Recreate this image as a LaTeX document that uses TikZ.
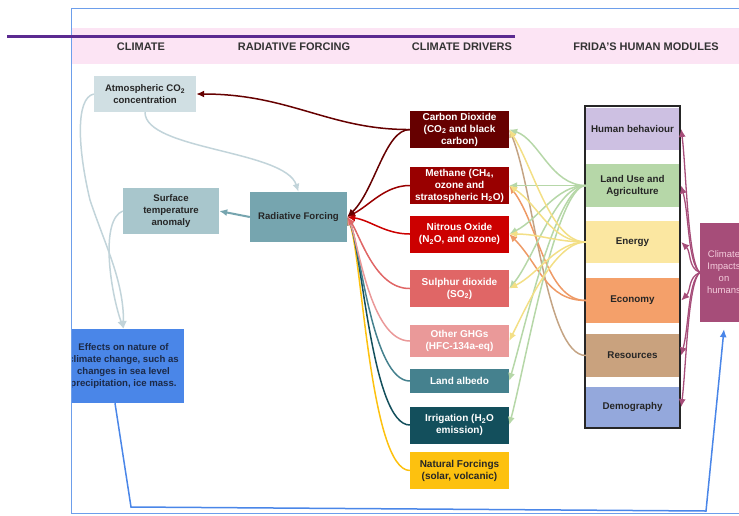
\documentclass[tikz,border=0pt]{standalone}
\usepackage{fontspec}
\setmainfont{Liberation Sans}
\usetikzlibrary{arrows.meta}

% palette
\definecolor{framecol}{HTML}{6D9EEB}
\definecolor{bandpink}{HTML}{FCE4F4}
\definecolor{rulepurple}{HTML}{5B2A90}
\definecolor{atmcol}{HTML}{D0DFE3}
\definecolor{stcol}{HTML}{A8C6CC}
\definecolor{rfcol}{HTML}{76A5AF}
\definecolor{effcol}{HTML}{4A86E8}
\definecolor{efftext}{HTML}{1C2A48}
\definecolor{co2col}{HTML}{660000}
\definecolor{methcol}{HTML}{990000}
\definecolor{nitcol}{HTML}{CC0000}
\definecolor{sulcol}{HTML}{E06666}
\definecolor{othcol}{HTML}{EA9999}
\definecolor{albcol}{HTML}{45818E}
\definecolor{irrcol}{HTML}{134F5C}
\definecolor{natcol}{HTML}{FDC10F}
\definecolor{hbcol}{HTML}{CDC0E2}
\definecolor{lucol}{HTML}{B6D7A8}
\definecolor{encol}{HTML}{FBE7A1}
\definecolor{eccol}{HTML}{F4A06A}
\definecolor{rescol}{HTML}{C9A27E}
\definecolor{demcol}{HTML}{94A8DC}
\definecolor{cicol}{HTML}{A64D79}
\definecolor{citext}{HTML}{F4CCDC}
\definecolor{grayline}{HTML}{C2D4DA}
\definecolor{yline}{HTML}{F3DF86}
\definecolor{oline}{HTML}{EE9A66}
\definecolor{tline}{HTML}{C4A484}

\tikzset{
  hdr/.style={font=\bfseries\fontsize{11}{13}\selectfont, text=black!80},
  clim/.style={inner sep=0pt, align=center, text=black!85,
    font=\bfseries\fontsize{9.6}{11.8}\selectfont},
  drv/.style={inner sep=0pt, minimum width=99pt, minimum height=37pt,
    align=center, text=white, font=\bfseries\fontsize{10}{12}\selectfont},
  mod/.style={inner sep=0pt, minimum width=93pt, align=center,
    text=black!85, font=\bfseries\fontsize{9.8}{12}\selectfont},
  tip/.style={-{Latex[length=8pt,width=7pt]}},
  feed/.style={tip, line width=1.5pt},
  human/.style={tip, line width=1.3pt},
}

\begin{document}
\begin{tikzpicture}[x=1pt,y=-1pt]
\useasboundingbox (0,0) rectangle (739,515);

\begin{scope}
\clip (71,0) rectangle (739,515);

% header band
\fill[bandpink] (71,28) rectangle (739,64);
\node[hdr] (hclim) at (141,47) {CLIMATE};
\node[hdr] (hrf) at (294,47) {RADIATIVE FORCING};
\node[hdr] (hdrv) at (462,47) {CLIMATE DRIVERS};
\node[hdr] (hhum) at (646,47) {FRIDA'S HUMAN MODULES};

% climate and radiative forcing
\node[clim, fill=atmcol, minimum width=102pt, minimum height=36pt]
  (atm) at (145,94) {Atmospheric CO\textsubscript{2}\\concentration};
\node[clim, fill=stcol, minimum width=96pt, minimum height=46pt]
  (st) at (171,211) {Surface\\temperature\\anomaly};
\node[clim, fill=rfcol, minimum width=97pt, minimum height=50pt]
  (rf) at (298.5,217) {Radiative Forcing};
\node[clim, fill=effcol, text=efftext, minimum width=121pt, minimum height=74pt]
  (eff) at (123.5,366) {Effects on nature of\\climate change, such as\\changes in sea level\\precipitation, ice mass.};

% climate drivers
\node[drv, fill=co2col]  (co2d) at (459.5,129.5) {Carbon Dioxide\\(CO\textsubscript{2} and black\\carbon)};
\node[drv, fill=methcol] (meth) at (459.5,185.5) {Methane (CH\textsubscript{4},\\ozone and\\stratospheric H\textsubscript{2}O)};
\node[drv, fill=nitcol]  (nit)  at (459.5,234) {Nitrous Oxide\\(N\textsubscript{2}O, and ozone)};
\node[drv, fill=sulcol]  (sul)  at (459.5,288.5) {Sulphur dioxide\\(SO\textsubscript{2})};
\node[drv, fill=othcol, minimum height=32pt] (oth) at (459.5,341) {Other GHGs\\(HFC-134a-eq)};
\node[drv, fill=albcol, minimum height=24pt] (alb) at (459.5,381) {Land albedo};
\node[drv, fill=irrcol]  (irr)  at (459.5,425) {Irrigation (H\textsubscript{2}O\\emission)};
\node[drv, fill=natcol, text=black!85] (nat) at (459.5,470.5) {Natural Forcings\\(solar, volcanic)};

% human modules
\node[mod, fill=hbcol,  minimum height=42pt] (hb)  at (632.5,129)   {Human behaviour};
\node[mod, fill=lucol,  minimum height=43pt] (lu)  at (632.5,185.5) {Land Use and\\Agriculture};
\node[mod, fill=encol,  minimum height=42pt] (en)  at (632.5,242)   {Energy};
\node[mod, fill=eccol,  minimum height=45pt] (ec)  at (632.5,300.5) {Economy};
\node[mod, fill=rescol, minimum height=43pt] (res) at (632.5,355.5) {Resources};
\node[mod, fill=demcol, minimum height=40pt] (dem) at (632.5,407)   {Demography};
\node[draw=black!85, line width=2pt, minimum width=95pt, minimum height=322pt,
  inner sep=0pt] (modframe) at (632.5,267) {};

\node[fill=cicol, text=citext, inner sep=0pt, minimum width=48pt,
  minimum height=99pt, align=center, font=\fontsize{9.5}{12}\selectfont]
  (ci) at (724,272.5) {Climate\\Impacts\\on\\humans};

% climate chain
\draw[tip, grayline, line width=1.5pt] (atm.south)
  .. controls (145,150) and (285,150) .. (rf.north);
\draw[tip, grayline, line width=1.5pt] (atm.west)
  .. controls (75,98) and (78,150) .. (90,200)
  .. controls (105,245) and (123.5,280) .. (eff.north);
\draw[tip, grayline, line width=1.5pt] (st.west)
  .. controls (100,220) and (110,290) .. (eff.north);
\draw[tip, rfcol, line width=2pt] (rf.west) -- (st.east);

% drivers feeding radiative forcing
\draw[feed, natcol] (nat.west) .. controls (370,470) and (362,255) .. (rf.east);
\draw[feed, irrcol] (irr.west) .. controls (372,425) and (362,250) .. (rf.east);
\draw[feed, albcol] (alb.west) .. controls (372,381) and (360,245) .. (rf.east);
\draw[feed, othcol] (oth.west) .. controls (370,341) and (358,240) .. (rf.east);
\draw[feed, sulcol] (sul.west) .. controls (375,289) and (360,235) .. (rf.east);
\draw[feed, nitcol] (nit.west) .. controls (385,234) and (370,220) .. (rf.east);
\draw[feed, methcol] (meth.west) .. controls (385,185.5) and (370,205) .. (rf.east);
\draw[feed, co2col] (co2d.west) .. controls (385,129.5) and (375,190) .. (rf.east);
\draw[feed, co2col] (co2d.west) .. controls (330,130) and (290,94) .. (atm.east);

% human modules feeding the drivers
\draw[feed, tline] (res.west) .. controls +(-40,0) and +(25,60) .. (co2d.east);
\draw[feed, oline] (ec.west) .. controls +(-40,0) and +(30,40) .. (meth.east);
\draw[feed, oline] (ec.west) .. controls +(-40,0) and +(30,30) .. (nit.east);
\draw[feed, lucol] (lu.west) .. controls +(-35,0) and +(30,10) .. (co2d.east);
\draw[feed, lucol] (lu.west) .. controls +(-30,0) and +(30,0) .. (meth.east);
\draw[feed, lucol] (lu.west) .. controls +(-30,0) and +(30,-15) .. (nit.east);
\draw[feed, lucol] (lu.west) .. controls +(-30,0) and +(25,-30) .. (sul.east);
\draw[feed, lucol] (lu.west) .. controls +(-30,0) and +(15,-50) .. (alb.east);
\draw[feed, lucol] (lu.west) .. controls +(-30,0) and +(15,-55) .. (irr.east);
\draw[feed, yline] (en.west) .. controls +(-35,0) and +(25,40) .. (co2d.east);
\draw[feed, yline] (en.west) .. controls +(-35,0) and +(30,20) .. (meth.east);
\draw[feed, yline] (en.west) .. controls +(-30,0) and +(30,0) .. (nit.east);
\draw[feed, yline] (en.west) .. controls +(-30,0) and +(30,-15) .. (sul.east);
\draw[feed, yline] (en.west) .. controls +(-30,0) and +(20,-40) .. (oth.east);

% climate impacts back onto the human modules
\draw[human, cicol] (ci.west) .. controls +(-12,-10) and +(5,40) .. ([xshift=2pt]hb.east);
\draw[human, cicol] (ci.west) .. controls +(-12,-10) and +(8,30) .. ([xshift=2pt]lu.east);
\draw[human, cicol] (ci.west) .. controls +(-12,-5) and +(10,10) .. ([xshift=2pt]en.east);
\draw[human, cicol] (ci.west) .. controls +(-12,5) and +(10,-10) .. ([xshift=2pt]ec.east);
\draw[human, cicol] (ci.west) .. controls +(-12,10) and +(8,-30) .. ([xshift=2pt]res.east);
\draw[human, cicol] (ci.west) .. controls +(-12,10) and +(5,-40) .. ([xshift=2pt]dem.east);

% effects on nature loop back to climate impacts
\coordinate (loopa) at (131,507);
\coordinate (loopb) at (706,511);
\draw[tip, effcol, line width=1.5pt] ([xshift=-8.5pt]eff.south) -- (loopa) -- (loopb)
  -- ([yshift=-7pt]ci.south);
\end{scope}

% outer frame and title rule
\draw[framecol, line width=1pt] (740,8) -- (71,8) -- (71,513.5) -- (740,513.5);
\draw[rulepurple, line width=3pt] (7,36.5) -- (515,36.5);
\end{tikzpicture}
\end{document}
